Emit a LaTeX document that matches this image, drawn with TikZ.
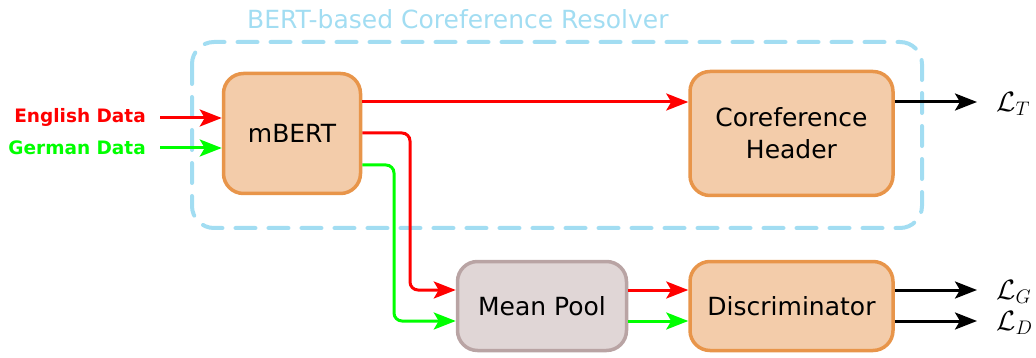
\RequirePackage{fix-cm}
\documentclass[tikz,border=0pt]{standalone}
\usepackage{fontspec}
\setmainfont{DejaVu Sans}
\usetikzlibrary{arrows.meta,calc}
\definecolor{boxfill}{RGB}{243,204,170}
\definecolor{boxedge}{RGB}{232,149,74}
\definecolor{poolfill}{RGB}{224,214,214}
\definecolor{pooledge}{RGB}{185,164,164}
\definecolor{resolver}{RGB}{162,221,242}
\definecolor{enred}{RGB}{255,0,0}
\definecolor{degreen}{RGB}{0,255,0}
\newcommand{\bigtext}{\fontsize{25}{32}\selectfont}
\tikzset{
  block/.style={draw=boxedge, fill=boxfill, line width=3.5pt, rounded corners=20pt,
    align=center, font=\bigtext, inner sep=0pt},
  poolblock/.style={block, draw=pooledge, fill=poolfill},
  frametitle/.style={text=resolver, font=\bigtext, anchor=west, inner sep=0pt},
  flow/.style={line width=3pt, -{Stealth[length=22pt,width=17pt,inset=5pt]}, rounded corners=8pt},
  datalabel/.style={font=\fontsize{18.5}{22}\selectfont\bfseries, anchor=east, inner sep=0pt},
  losslabel/.style={anchor=west, inner sep=0pt, font=\fontsize{28}{32}\selectfont},
}
\begin{document}
\begin{tikzpicture}[x=1pt,y=-1pt]
\useasboundingbox (0,0) rectangle (1036,358);

% resolver frame and its title
\draw[resolver, line width=4pt, dash pattern=on 20pt off 13pt, line cap=round, rounded corners=22pt]
  (192,42) rectangle (922,228);
\node[frametitle] (title) at (247,19) {BERT-based Coreference Resolver};

% blocks
\node[block, minimum width=137pt, minimum height=120pt] (mbert) at (292,133.5) {mBERT};
\node[block, minimum width=203pt, minimum height=124pt] (coref) at (791.5,133.5) {Coreference\\Header};
\node[poolblock, minimum width=169pt, minimum height=89pt] (pool) at (542,306) {Mean Pool};
\node[block, minimum width=203pt, minimum height=89pt] (disc) at (791.5,306) {Discriminator};

% inputs
\node[datalabel, text=enred] (en) at (146,117) {English Data};
\node[datalabel, text=degreen] (de) at (146,148) {German Data};
\draw[flow, enred] ([xshift=14pt]en.east |- 0,118) -- (mbert.west |- 0,118);
\draw[flow, degreen] ([xshift=14pt]de.east |- 0,148) -- (mbert.west |- 0,148);

% feature paths
\draw[flow, enred] (mbert.east |- 0,102) -- (coref.west |- 0,102);
\draw[flow, enred] (mbert.east |- 0,133) -- (410,133) -- (410,290) -- (pool.west |- 0,290);
\draw[flow, degreen] (mbert.east |- 0,165) -- (394,165) -- (394,321) -- (pool.west |- 0,321);
\draw[flow, enred] (pool.east |- 0,290) -- (disc.west |- 0,290);
\draw[flow, degreen] (pool.east |- 0,321) -- (disc.west |- 0,321);

% losses
\node[losslabel] (lt) at (996,104) {$\mathcal{L}_T$};
\node[losslabel] (lg) at (996,292) {$\mathcal{L}_G$};
\node[losslabel] (ld) at (996,323) {$\mathcal{L}_D$};
\draw[flow, black] (coref.east |- 0,102) -- ([xshift=-19pt]lt.west |- 0,102);
\draw[flow, black] (disc.east |- 0,290) -- ([xshift=-19pt]lg.west |- 0,290);
\draw[flow, black] (disc.east |- 0,321) -- ([xshift=-19pt]ld.west |- 0,321);
\end{tikzpicture}
\end{document}
